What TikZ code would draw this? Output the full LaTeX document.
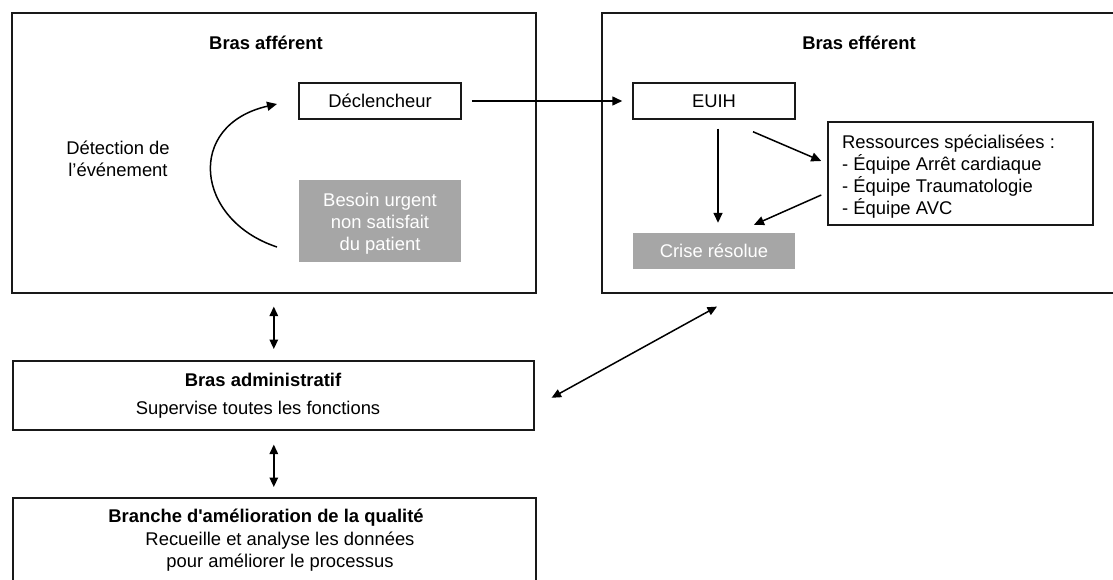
\documentclass[tikz,border=0pt]{standalone}
\usepackage{fontspec}
\setmainfont{Liberation Sans}
\usetikzlibrary{arrows.meta,calc}
\definecolor{boxgray}{RGB}{166,166,166}
\definecolor{linecol}{RGB}{25,25,25}
\newcommand\dfont{\fontsize{18.4pt}{22pt}\selectfont}
\begin{document}
\begin{tikzpicture}[x=1pt,y=-1pt,
  frame/.style={draw=linecol,line width=1.6pt,inner sep=0pt,anchor=north west},
  box/.style={draw=linecol,line width=1.5pt,inner sep=0pt,minimum width=162pt,minimum height=36pt,font=\dfont},
  graybox/.style={fill=boxgray,text=white,inner sep=0pt,minimum width=162pt,font=\dfont,align=center},
  title/.style={font=\dfont\bfseries,inner sep=0pt,anchor=base},
  txt/.style={font=\dfont,inner sep=0pt,align=center},
  arr/.style={line width=1.5pt,-{Triangle[length=10pt,width=9pt]}},
  darr/.style={line width=1.5pt,{Triangle[length=9.5pt,width=8.5pt]}-{Triangle[length=9.5pt,width=8.5pt]}},
]
\useasboundingbox (0,0) rectangle (1113,580);
\clip (0,0) rectangle (1113,580);
\fill[white] (0,0) rectangle (1113,580);

% afferent arm
\node[frame,minimum width=524pt,minimum height=280pt] (aff) at (11,12) {};
\node[title] (afft) at (266,50) {Bras afférent};
\node[box] (decl) at (380,101) {Déclencheur};
\node[graybox,minimum height=82pt] (besoin) at (380,221) {};
\node[txt,text=white] (besointx) at (380,224) {Besoin urgent\\non satisfait\\du patient};
\node[txt] (detect) at (118,159) {Détection de\\l’événement};
\coordinate (cstart) at (277,247);
\coordinate (cend) at (277,104);
\draw[arr] (cstart) .. controls (195,220) and (185,125) .. (cend);

% efferent arm
\node[frame,minimum width=540pt,minimum height=280pt] (eff) at (601,12) {};
\node[title] (efft) at (859,50) {Bras efférent};
\node[box] (euih) at (714,101) {EUIH};
\node[graybox,minimum height=36pt] (crise) at (714,251) {Crise résolue};
\node[box,minimum width=265pt,minimum height=103pt] (res) at (960.5,173.5) {};
\node[txt,align=left,anchor=west] (restxt) at (842,177) {Ressources spécialisées :\\- Équipe Arrêt cardiaque\\- Équipe Traumatologie\\- Équipe AVC};

\draw[arr,shorten <=10pt,shorten >=10pt] (decl) -- (euih);
\draw[arr,shorten <=9pt,shorten >=10pt] ($(euih.south)+(4,0)$) -- ($(crise.north)+(4,0)$);
\coordinate (e1s) at ($(euih.south)+(39,12)$);
\coordinate (e1e) at ($(res.west)+(-6,-12.5)$);
\draw[arr] (e1s) -- (e1e);
\coordinate (e2s) at ($(res.west)+(-6,21.5)$);
\coordinate (e2e) at ($(crise.north)+(40,-8)$);
\draw[arr] (e2s) -- (e2e);

% administrative arm
\node[frame,minimum width=521pt,minimum height=69pt] (admin) at (12,360) {};
\node[title] (admint) at (263,386) {Bras administratif};
\node[txt,anchor=base] (admintx) at (258,414) {Supervise toutes les fonctions};

% quality branch
\node[frame,minimum width=523pt,minimum height=130pt] (qual) at (12,497) {};
\node[title] (qualt) at (266,522) {Branche d\textquotesingle amélioration de la qualité};
\node[txt,anchor=base] (qualtx1) at (280,545) {Recueille et analyse les données};
\node[txt,anchor=base] (qualtx2) at (280,567) {pour améliorer le processus};

% links
\draw[darr,shorten <=13pt,shorten >=11pt] (aff.south) -- ($(admin.north)+(0.5,0)$);
\draw[darr,shorten <=14pt,shorten >=10pt] ($(admin.south)+(0.5,0)$) -- ($(qual.north)+(-0.5,0)$);
\coordinate (d1) at ($(admin.east)+(17,2.5)$);
\coordinate (d2) at ($(eff.south west)+(116,13)$);
\draw[darr] (d1) -- (d2);
\end{tikzpicture}
\end{document}
